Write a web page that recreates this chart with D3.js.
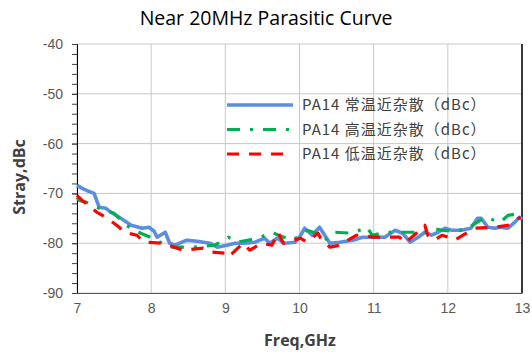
<!DOCTYPE html>
<html>
<head>
<meta charset="utf-8">
<script src="https://cdn.jsdelivr.net/npm/d3@7"></script>
<style>
  body { margin: 0; background: #fff; }
  svg { display: block; }
</style>
</head>
<body>
<div id="chart"></div>
<script>
// ---- data ----
var xTicks = [7, 8, 9, 10, 11, 12, 13];
var yTicks = [-90, -80, -70, -60, -50, -40];
var seriesNames = ['PA14 常温近杂散（dBc）', 'PA14 高温近杂散（dBc）', 'PA14 低温近杂散（dBc）'];

// room temperature (blue)
var freqRoom = [7.00, 7.07, 7.16, 7.23, 7.30, 7.39, 7.46, 7.59, 7.73, 7.88, 7.97, 8.04, 8.08, 8.19, 8.25, 8.32,
    8.48, 8.62, 8.79, 8.89, 9.02, 9.13, 9.26, 9.40, 9.53, 9.60, 9.70, 9.80, 9.94, 10.00, 10.07, 10.17, 10.27,
    10.34, 10.41, 10.54, 10.72, 10.85, 11.02, 11.15, 11.29, 11.39, 11.49, 11.60, 11.69, 11.78, 11.87, 11.96,
    12.05, 12.18, 12.31, 12.40, 12.45, 12.54, 12.63, 12.71, 12.81, 12.90, 12.97, 13.00];
var valRoom = [-68.4, -69.0, -69.6, -70.0, -72.8, -73.0, -73.8, -75.0, -76.4, -77.0, -76.8, -77.6, -78.8, -77.8, -80.0, -80.4,
    -79.4, -79.6, -80.0, -80.8, -80.4, -80.0, -80.0, -79.8, -79.0, -80.0, -79.0, -80.0, -79.8, -78.8, -77.0, -78.4, -76.8,
    -78.4, -80.0, -79.8, -79.4, -78.8, -78.8, -78.8, -77.4, -78.0, -79.8, -78.8, -77.8, -78.4, -77.8, -77.0,
    -77.4, -77.4, -77.0, -75.0, -75.0, -76.8, -77.0, -76.8, -77.0, -75.8, -74.8, -75.2];

// high temperature (green)
var freqHigh = [7.00, 7.03, 7.13, 7.30, 7.50, 7.66, 7.86, 8.02, 8.25, 8.39, 8.55, 8.70, 8.86, 9.04, 9.17, 9.30, 9.44,
    9.64, 9.71, 9.91, 10.10, 10.23, 10.34, 10.48, 10.71, 10.91, 10.98, 11.15, 11.42, 11.69, 11.78, 11.92,
    12.10, 12.27, 12.50, 12.71, 12.81, 12.98];
var valHigh = [-70.8, -71.4, -71.8, -73.0, -74.0, -76.4, -78.0, -79.0, -80.8, -80.8, -80.8, -80.6, -80.4, -78.8, -79.8, -79.4, -79.0,
    -77.8, -78.4, -79.4, -77.4, -78.0, -79.4, -77.8, -78.0, -76.8, -78.4, -77.8, -77.8, -77.8, -77.0, -77.4,
    -77.6, -77.0, -74.8, -75.8, -74.4, -74.0];

// low temperature (red)
var freqLow = [7.00, 7.07, 7.27, 7.39, 7.57, 7.63, 7.81, 7.90, 8.16, 8.42, 8.70, 8.82, 8.99, 9.04, 9.24, 9.33, 9.49,
    9.63, 9.71, 9.78, 10.01, 10.10, 10.25, 10.30, 10.41, 10.54, 10.77, 10.85, 10.99, 11.11, 11.35, 11.42,
    11.62, 11.69, 11.73, 11.82, 11.92, 12.05, 12.09, 12.36, 12.63, 12.81, 12.90, 12.98];
var valLow = [-70.4, -71.4, -73.8, -74.8, -76.8, -77.8, -78.4, -79.8, -80.0, -81.4, -81.0, -81.8, -82.0, -82.8, -80.0, -81.4, -80.0,
    -80.4, -77.8, -80.0, -79.0, -79.8, -78.0, -79.4, -80.8, -80.4, -78.4, -78.4, -78.8, -78.8, -78.8, -80.0,
    -77.4, -76.4, -78.4, -79.4, -78.4, -79.0, -79.4, -77.0, -76.8, -76.4, -75.4, -74.8];

// ---- drawing ----
var W = 532, H = 356;
var plot = { left: 77, right: 522, top: 44, bottom: 293 };

var svg = d3.select('#chart').append('svg')
    .attr('width', W)
    .attr('height', H)
    .style('font-family', '"Open Sans", "Noto Sans", sans-serif');

var x = d3.scaleLinear().domain([7, 13]).range([plot.left, plot.right]);
var y = d3.scaleLinear().domain([-90, -40]).range([plot.bottom, plot.top]);

// grid
svg.append('g').selectAll('line')
    .data(xTicks)
    .join('line')
    .attr('x1', function (d) { return x(d); })
    .attr('x2', function (d) { return x(d); })
    .attr('y1', plot.top)
    .attr('y2', plot.bottom)
    .style('stroke', '#c8c8c8')
    .style('stroke-width', 1);

svg.append('g').selectAll('line')
    .data(yTicks)
    .join('line')
    .attr('x1', plot.left)
    .attr('x2', plot.right)
    .attr('y1', function (d) { return y(d); })
    .attr('y2', function (d) { return y(d); })
    .style('stroke', '#c8c8c8')
    .style('stroke-width', 1);

// right border
svg.append('line')
    .attr('x1', plot.right).attr('x2', plot.right)
    .attr('y1', plot.top).attr('y2', plot.bottom)
    .style('stroke', '#000').style('stroke-width', 1.5);

// y axis (minor ticks every 2)
var minor = d3.range(-90, -39, 2);
svg.append('g')
    .attr('transform', 'translate(' + plot.left + ',0)')
    .call(d3.axisLeft(y).tickValues(minor).tickSize(5).tickFormat(''))
    .call(function (g) {
        g.select('.domain').style('stroke', '#000');
        g.selectAll('.tick line').style('stroke', '#404040');
    });

var yAxis = svg.append('g')
    .attr('transform', 'translate(' + plot.left + ',0)')
    .call(d3.axisLeft(y).tickValues(yTicks).tickSize(5).tickPadding(9)
        .tickFormat(function (d) { return String(d); }));
yAxis.select('.domain').remove();
yAxis.selectAll('.tick line').style('stroke', '#404040');
yAxis.selectAll('text')
    .style('font-size', '14px')
    .style('fill', '#595959');

// x axis
var xAxis = svg.append('g')
    .attr('transform', 'translate(0,' + plot.bottom + ')')
    .call(d3.axisBottom(x).tickValues(xTicks).tickSize(0).tickPadding(10)
        .tickFormat(function (d) { return String(d); }));
xAxis.select('.domain').style('stroke', '#595959');
xAxis.selectAll('text')
    .style('font-size', '14px')
    .style('fill', '#595959');

// series
var styles = [
    { color: '#5b8ede', width: 3.6, dash: null },
    { color: '#00b050', width: 3.2, dash: '13,10,3,10' },
    { color: '#ff0000', width: 3.2, dash: '12,10' }
];

var series = [
    d3.zip(freqRoom, valRoom),
    d3.zip(freqHigh, valHigh),
    d3.zip(freqLow, valLow)
];

var line = d3.line()
    .x(function (d) { return x(d[0]); })
    .y(function (d) { return y(d[1]); });

svg.append('g').selectAll('path')
    .data([0, 1, 2])
    .join('path')
    .attr('d', function (i) { return line(series[i]); })
    .style('fill', 'none')
    .style('stroke', function (i) { return styles[i].color; })
    .style('stroke-width', function (i) { return styles[i].width; })
    .style('stroke-dasharray', function (i) { return styles[i].dash; })
    .style('stroke-linejoin', 'round');

// legend (no frame, grid shows through)
var legend = svg.append('g').selectAll('g')
    .data(seriesNames)
    .join('g')
    .attr('transform', function (d, i) { return 'translate(227,' + (105 + i * 24.5) + ')'; });

legend.append('line')
    .attr('x1', 0).attr('x2', 66)
    .style('stroke', function (d, i) { return styles[i].color; })
    .style('stroke-width', function (d, i) { return styles[i].width; })
    .style('stroke-dasharray', function (d, i) { return styles[i].dash; });

legend.append('text')
    .attr('x', 75)
    .attr('dy', '0.35em')
    .style('font-family', '"Noto Sans CJK SC", "Noto Sans", sans-serif')
    .style('font-size', '15px')
    .style('letter-spacing', '1px')
    .style('fill', '#404040')
    .text(function (d) { return d; });

// title and axis labels
svg.append('text')
    .attr('x', 266)
    .attr('y', 25)
    .attr('text-anchor', 'middle')
    .style('font-size', '19.5px')
    .style('fill', '#000')
    .text('Near 20MHz Parasitic Curve');

svg.append('text')
    .attr('x', 300)
    .attr('y', 346)
    .attr('text-anchor', 'middle')
    .style('font-size', '16px')
    .style('font-weight', 'bold')
    .style('fill', '#404040')
    .text('Freq,GHz');

svg.append('text')
    .attr('transform', 'translate(25,177) rotate(-90)')
    .attr('text-anchor', 'middle')
    .style('font-size', '16px')
    .style('font-weight', 'bold')
    .style('fill', '#404040')
    .text('Stray,dBc');
</script>
</body>
</html>
